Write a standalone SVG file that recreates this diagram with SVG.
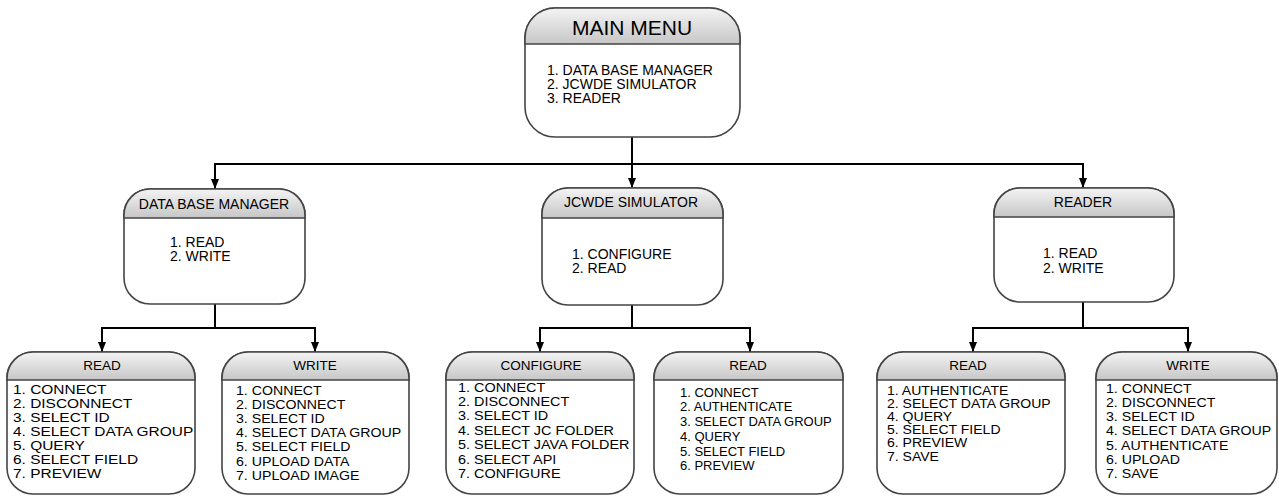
<svg xmlns="http://www.w3.org/2000/svg" width="1279" height="496" viewBox="0 0 1279 496">
  <defs>
    <linearGradient id="hdr" x1="0" y1="0" x2="0" y2="1">
      <stop offset="0" stop-color="#f4f4f4"/>
      <stop offset="1" stop-color="#c6c6c6"/>
    </linearGradient>
    <marker id="arrow" viewBox="0 0 10 8" refX="10" refY="4" markerWidth="10" markerHeight="8" markerUnits="userSpaceOnUse" orient="auto">
      <path d="M0,0 L10,4 L0,8 Z" fill="#000"/>
    </marker>
  </defs>
  <style>
    .box { fill: #fff; stroke: #444; stroke-width: 1.6; }
    .head { fill: url(#hdr); stroke: #444; stroke-width: 1.6; }
    .link { fill: none; stroke: #000; stroke-width: 2; }
    text { font-family: "Liberation Sans", Arial, sans-serif; fill: #000; }
    .title { font-size: 21px; text-anchor: middle; }
    .h2 { font-size: 14px; text-anchor: middle; }
    .h3 { font-size: 13.5px; text-anchor: middle; }
    .li1 { font-size: 14px; }
    .li2 { font-size: 14px; }
    .li3 { font-size: 13px; }
  </style>

  <rect width="1279" height="496" fill="#fff"/>

  <!-- connectors -->
  <g id="connectors">
    <path class="link" d="M632,137 V164 M215,164 H1083"/>
    <path class="link" d="M215,163 V189" marker-end="url(#arrow)"/>
    <path class="link" d="M632,163 V188" marker-end="url(#arrow)"/>
    <path class="link" d="M1083,163 V188" marker-end="url(#arrow)"/>

    <path class="link" d="M215,304 V328 M102,328 H315"/>
    <path class="link" d="M102,327 V352" marker-end="url(#arrow)"/>
    <path class="link" d="M315,327 V352" marker-end="url(#arrow)"/>

    <path class="link" d="M632,305 V328 M540,328 H750"/>
    <path class="link" d="M540,327 V352" marker-end="url(#arrow)"/>
    <path class="link" d="M750,327 V352" marker-end="url(#arrow)"/>

    <path class="link" d="M1083,302 V328 M973,328 H1188"/>
    <path class="link" d="M973,327 V352" marker-end="url(#arrow)"/>
    <path class="link" d="M1188,327 V352" marker-end="url(#arrow)"/>
  </g>

  <!-- top level -->
  <g id="main-menu">
    <rect class="box" x="525" y="8" width="215" height="129" rx="30"/>
    <path class="head" d="M525,44 V38 A30,30 0 0 1 555,8 H710 A30,30 0 0 1 740,38 V44 Z"/>
    <text class="title" x="632" y="35">MAIN MENU</text>
    <text class="li1" x="547" y="75">1. DATA BASE MANAGER</text>
    <text class="li1" x="547" y="89">2. JCWDE SIMULATOR</text>
    <text class="li1" x="547" y="103">3. READER</text>
  </g>

  <!-- second level -->
  <g id="data-base-manager">
    <rect class="box" x="124" y="189" width="181" height="115" rx="26"/>
    <path class="head" d="M124,218 V215 A26,26 0 0 1 150,189 H279 A26,26 0 0 1 305,215 V218 Z"/>
    <text class="h2" x="214" y="209">DATA BASE MANAGER</text>
    <text class="li2" x="170" y="247">1. READ</text>
    <text class="li2" x="170" y="261">2. WRITE</text>
  </g>

  <g id="jcwde-simulator">
    <rect class="box" x="542" y="188" width="181" height="117" rx="26"/>
    <path class="head" d="M542,218 V214 A26,26 0 0 1 568,188 H697 A26,26 0 0 1 723,214 V218 Z"/>
    <text class="h2" x="631" y="207">JCWDE SIMULATOR</text>
    <text class="li2" x="572" y="259">1. CONFIGURE</text>
    <text class="li2" x="572" y="273">2. READ</text>
  </g>

  <g id="reader">
    <rect class="box" x="994" y="188" width="180" height="114" rx="26"/>
    <path class="head" d="M994,217 V214 A26,26 0 0 1 1020,188 H1148 A26,26 0 0 1 1174,214 V217 Z"/>
    <text class="h2" x="1083" y="207">READER</text>
    <text class="li2" x="1043" y="258">1. READ</text>
    <text class="li2" x="1043" y="273">2. WRITE</text>
  </g>

  <!-- third level: item lists are widened horizontally per box -->
  <g id="dbm-read">
    <rect class="box" x="7" y="352" width="188" height="142" rx="26"/>
    <path class="head" d="M7,380 V378 A26,26 0 0 1 33,352 H169 A26,26 0 0 1 195,378 V380 Z"/>
    <text class="h3" x="102" y="370">READ</text>
    <g transform="translate(13 0) scale(1.19 1)">
      <text class="li3" x="0" y="394">1. CONNECT</text>
      <text class="li3" x="0" y="408">2. DISCONNECT</text>
      <text class="li3" x="0" y="422">3. SELECT ID</text>
      <text class="li3" x="0" y="436">4. SELECT DATA GROUP</text>
      <text class="li3" x="0" y="450">5. QUERY</text>
      <text class="li3" x="0" y="464">6. SELECT FIELD</text>
      <text class="li3" x="0" y="478">7. PREVIEW</text>
    </g>
  </g>

  <g id="dbm-write">
    <rect class="box" x="222" y="352" width="187" height="142" rx="26"/>
    <path class="head" d="M222,380 V378 A26,26 0 0 1 248,352 H383 A26,26 0 0 1 409,378 V380 Z"/>
    <text class="h3" x="315" y="370">WRITE</text>
    <g transform="translate(236 0) scale(1.09 1)">
      <text class="li3" x="0" y="395">1. CONNECT</text>
      <text class="li3" x="0" y="409">2. DISCONNECT</text>
      <text class="li3" x="0" y="423">3. SELECT ID</text>
      <text class="li3" x="0" y="437">4. SELECT DATA GROUP</text>
      <text class="li3" x="0" y="451">5. SELECT FIELD</text>
      <text class="li3" x="0" y="466">6. UPLOAD DATA</text>
      <text class="li3" x="0" y="480">7. UPLOAD IMAGE</text>
    </g>
  </g>

  <g id="jcwde-configure">
    <rect class="box" x="446" y="352" width="188" height="142" rx="26"/>
    <path class="head" d="M446,380 V378 A26,26 0 0 1 472,352 H608 A26,26 0 0 1 634,378 V380 Z"/>
    <text class="h3" x="541" y="370">CONFIGURE</text>
    <g transform="translate(458 0) scale(1.11 1)">
      <text class="li3" x="0" y="392">1. CONNECT</text>
      <text class="li3" x="0" y="406">2. DISCONNECT</text>
      <text class="li3" x="0" y="420">3. SELECT ID</text>
      <text class="li3" x="0" y="435">4. SELECT JC FOLDER</text>
      <text class="li3" x="0" y="449">5. SELECT JAVA FOLDER</text>
      <text class="li3" x="0" y="464">6. SELECT API</text>
      <text class="li3" x="0" y="478">7. CONFIGURE</text>
    </g>
  </g>

  <g id="jcwde-read">
    <rect class="box" x="654" y="352" width="189" height="142" rx="26"/>
    <path class="head" d="M654,380 V378 A26,26 0 0 1 680,352 H817 A26,26 0 0 1 843,378 V380 Z"/>
    <text class="h3" x="748" y="370">READ</text>
    <g transform="translate(680 0) scale(1.0 1)">
      <text class="li3" x="0" y="397">1. CONNECT</text>
      <text class="li3" x="0" y="411">2. AUTHENTICATE</text>
      <text class="li3" x="0" y="426">3. SELECT DATA GROUP</text>
      <text class="li3" x="0" y="441">4. QUERY</text>
      <text class="li3" x="0" y="456">5. SELECT FIELD</text>
      <text class="li3" x="0" y="470">6. PREVIEW</text>
    </g>
  </g>

  <g id="reader-read">
    <rect class="box" x="877" y="352" width="188" height="142" rx="26"/>
    <path class="head" d="M877,380 V378 A26,26 0 0 1 903,352 H1039 A26,26 0 0 1 1065,378 V380 Z"/>
    <text class="h3" x="968" y="370">READ</text>
    <g transform="translate(887 0) scale(1.08 1)">
      <text class="li3" x="0" y="395">1. AUTHENTICATE</text>
      <text class="li3" x="0" y="408">2. SELECT DATA GROUP</text>
      <text class="li3" x="0" y="421">4. QUERY</text>
      <text class="li3" x="0" y="434">5. SELECT FIELD</text>
      <text class="li3" x="0" y="447">6. PREVIEW</text>
      <text class="li3" x="0" y="461">7. SAVE</text>
    </g>
  </g>

  <g id="reader-write">
    <rect class="box" x="1096" y="352" width="181" height="142" rx="26"/>
    <path class="head" d="M1096,380 V378 A26,26 0 0 1 1122,352 H1251 A26,26 0 0 1 1277,378 V380 Z"/>
    <text class="h3" x="1188" y="370">WRITE</text>
    <g transform="translate(1106 0) scale(1.09 1)">
      <text class="li3" x="0" y="393">1. CONNECT</text>
      <text class="li3" x="0" y="407">2. DISCONNECT</text>
      <text class="li3" x="0" y="421">3. SELECT ID</text>
      <text class="li3" x="0" y="435">4. SELECT DATA GROUP</text>
      <text class="li3" x="0" y="450">5. AUTHENTICATE</text>
      <text class="li3" x="0" y="464">6. UPLOAD</text>
      <text class="li3" x="0" y="478">7. SAVE</text>
    </g>
  </g>
</svg>
